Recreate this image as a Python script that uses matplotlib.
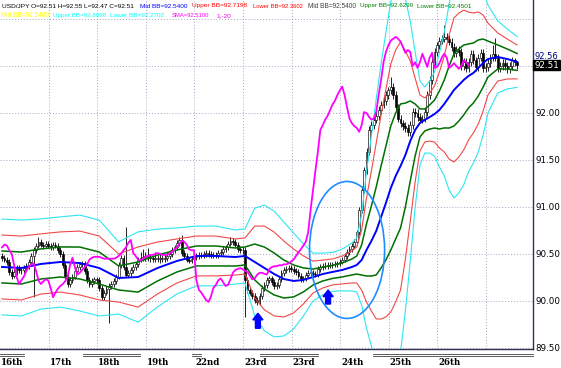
import matplotlib
matplotlib.use('Agg')
import matplotlib.pyplot as plt
from matplotlib import font_manager as fm
from matplotlib.patches import Ellipse, FancyArrow
from matplotlib.lines import Line2D
import numpy as np

# ---------------- data ----------------
first_open = 90.48
closes = [
    90.46, 90.44, 90.42, 90.31, 90.27, 90.31, 90.35, 90.33, 90.33, 90.35,
    90.37, 90.42, 90.48, 90.54, 90.59, 90.63, 90.60, 90.59, 90.61, 90.59,
    90.57, 90.60, 90.59, 90.54, 90.50, 90.38, 90.26, 90.18, 90.22, 90.26,
    90.32, 90.36, 90.39, 90.40, 90.32, 90.22, 90.18, 90.21, 90.23, 90.22,
    90.14, 90.04, 90.09, 90.13, 90.16, 90.18, 90.21, 90.26, 90.38, 90.46,
    90.36, 90.28, 90.30, 90.33, 90.36, 90.39, 90.44, 90.46, 90.47, 90.47,
    90.47, 90.46, 90.45, 90.45, 90.45, 90.45, 90.45, 90.46, 90.48, 90.50,
    90.54, 90.57, 90.62, 90.65, 90.51, 90.48, 90.44, 90.43, 90.45, 90.47,
    90.48, 90.49, 90.49, 90.50, 90.51, 90.50, 90.49, 90.49, 90.49, 90.51,
    90.52, 90.55, 90.57, 90.61, 90.64, 90.63, 90.60, 90.55, 90.54, 90.54,
    90.22, 90.12, 90.09, 90.05, 90.01, 89.99, 90.05, 90.14, 90.17, 90.22,
    90.24, 90.20, 90.16, 90.17, 90.23, 90.30, 90.33, 90.34, 90.35, 90.34,
    90.32, 90.31, 90.27, 90.23, 90.24, 90.28, 90.30, 90.30, 90.29, 90.28,
    90.34, 90.36, 90.37, 90.37, 90.38, 90.38, 90.39, 90.39, 90.40, 90.42,
    90.44, 90.48, 90.52, 90.55, 90.59, 90.63, 90.73, 90.97, 91.18, 91.39,
    91.59, 91.82, 91.87, 91.93, 91.97, 92.03, 92.09, 92.13, 92.19, 92.24,
    92.28, 92.19, 92.06, 91.94, 91.89, 91.86, 91.84, 91.80, 91.87, 92.01,
    92.00, 91.96, 91.93, 91.94, 92.01, 92.19, 92.35, 92.54, 92.65, 92.72,
    92.77, 92.79, 92.81, 92.79, 92.76, 92.70, 92.64, 92.67, 92.65, 92.50,
    92.54, 92.48, 92.54, 92.63, 92.56, 92.49, 92.59, 92.64, 92.48, 92.49,
    92.53, 92.59, 92.63, 92.59, 92.48, 92.50, 92.53, 92.50, 92.47, 92.50,
    92.56, 92.54, 92.51,
]
highs = [
    90.51, 90.49, 90.47, 90.45, 90.34, 90.34, 90.38, 90.38, 90.36, 90.38,
    90.40, 90.45, 90.51, 90.57, 90.62, 90.68, 90.66, 90.63, 90.64, 90.64,
    90.62, 90.63, 90.63, 90.62, 90.57, 90.53, 90.41, 90.29, 90.25, 90.29,
    90.35, 90.39, 90.42, 90.43, 90.43, 90.35, 90.25, 90.24, 90.26, 90.26,
    90.25, 90.17, 90.12, 90.16, 90.19, 90.21, 90.24, 90.29, 90.41, 90.49,
    90.49, 90.79, 90.33, 90.36, 90.39, 90.42, 90.47, 90.52, 90.55, 90.52,
    90.56, 90.50, 90.49, 90.52, 90.49, 90.50, 90.49, 90.50, 90.52, 90.54,
    90.57, 90.60, 90.65, 90.68, 90.70, 90.54, 90.51, 90.47, 90.48, 90.50,
    90.51, 90.52, 90.52, 90.53, 90.54, 90.54, 90.53, 90.52, 90.52, 90.54,
    90.55, 90.58, 90.60, 90.64, 90.68, 90.67, 90.66, 90.63, 90.58, 90.57,
    90.57, 90.25, 90.15, 90.12, 90.08, 90.04, 90.08, 90.17, 90.20, 90.25,
    90.27, 90.27, 90.23, 90.20, 90.26, 90.33, 90.36, 90.37, 90.38, 90.38,
    90.37, 90.35, 90.34, 90.30, 90.27, 90.31, 90.33, 90.34, 90.33, 90.32,
    90.37, 90.39, 90.40, 90.41, 90.41, 90.42, 90.42, 90.43, 90.43, 90.45,
    90.47, 90.51, 90.55, 90.58, 90.62, 90.66, 90.76, 91.00, 91.22, 91.43,
    91.63, 91.86, 91.91, 91.97, 92.01, 92.07, 92.13, 92.17, 92.23, 92.28,
    92.38, 92.32, 92.23, 92.10, 91.98, 91.93, 91.90, 91.88, 91.91, 92.05,
    92.05, 92.04, 92.00, 91.98, 92.05, 92.23, 92.39, 92.58, 92.69, 92.76,
    92.81, 92.83, 92.94, 92.85, 92.83, 92.80, 92.74, 92.71, 92.71, 92.69,
    92.58, 92.58, 92.58, 92.67, 92.67, 92.60, 92.63, 92.68, 92.68, 92.53,
    92.57, 92.63, 92.72, 92.80, 92.63, 92.54, 92.57, 92.57, 92.54, 92.54,
    92.60, 92.59, 92.55,
]
lows = [
    90.43, 90.41, 90.38, 90.28, 90.23, 90.24, 90.28, 90.30, 90.29, 90.30,
    90.32, 90.34, 90.39, 90.04, 90.51, 90.56, 90.57, 90.55, 90.56, 90.56,
    90.54, 90.54, 90.56, 90.51, 90.47, 90.35, 90.23, 90.15, 90.15, 90.19,
    90.23, 90.29, 90.33, 90.36, 90.29, 90.19, 90.15, 90.15, 90.18, 90.19,
    90.11, 90.01, 90.01, 90.06, 89.77, 90.13, 90.15, 90.18, 90.23, 90.35,
    90.33, 90.25, 90.25, 90.27, 90.30, 90.33, 90.36, 90.41, 90.43, 90.43,
    90.43, 90.42, 90.41, 90.41, 90.41, 90.40, 90.41, 90.42, 90.43, 90.45,
    90.47, 90.51, 90.54, 90.59, 90.48, 90.45, 90.41, 90.40, 90.40, 90.42,
    90.44, 90.45, 90.46, 90.46, 90.47, 90.47, 90.46, 90.46, 90.46, 90.46,
    90.48, 90.49, 90.52, 90.54, 90.58, 90.60, 90.57, 90.52, 90.51, 90.50,
    89.83, 90.09, 90.06, 90.02, 89.98, 89.96, 89.96, 90.02, 90.11, 90.14,
    90.19, 90.17, 90.13, 90.13, 90.14, 90.20, 90.27, 90.30, 90.31, 90.31,
    90.29, 90.28, 90.24, 90.20, 90.20, 90.21, 90.25, 90.27, 90.26, 90.25,
    90.25, 90.31, 90.33, 90.34, 90.34, 90.35, 90.35, 90.36, 90.36, 90.37,
    90.39, 90.41, 90.45, 90.49, 90.52, 90.56, 90.60, 90.70, 90.94, 91.15,
    91.35, 91.55, 91.78, 91.83, 91.89, 91.93, 91.99, 92.05, 92.09, 92.15,
    92.20, 92.15, 92.02, 91.90, 91.85, 91.82, 91.80, 91.76, 91.76, 91.83,
    91.96, 91.92, 91.89, 91.89, 91.90, 91.97, 92.15, 92.31, 92.50, 92.61,
    92.68, 92.73, 92.75, 92.75, 92.72, 92.66, 92.60, 92.60, 92.61, 92.46,
    92.46, 92.44, 92.44, 92.50, 92.52, 92.45, 92.45, 92.55, 92.44, 92.44,
    92.45, 92.49, 92.55, 92.55, 92.44, 92.44, 92.46, 92.46, 92.43, 92.43,
    92.46, 92.50, 92.47,
]

# Bollinger (20) samples: middle line and one standard deviation
band_idx = [0, 8, 16, 24, 32, 40, 48, 56, 64, 72,
            80, 88, 96, 100, 104, 108, 112, 116, 120, 124,
            128, 132, 136, 140, 144, 146, 148, 150, 152, 154,
            156, 158, 160, 162, 164, 166, 168, 170, 172, 174,
            176, 178, 180, 182, 184, 186, 188, 190, 192, 194,
            196, 198, 200, 204, 208, 212]
bb_mid = [90.362, 90.351, 90.394, 90.415, 90.404, 90.351, 90.245, 90.255, 90.351, 90.426,
          90.479, 90.479, 90.468, 90.479, 90.415, 90.351, 90.287, 90.234, 90.213, 90.224,
          90.255, 90.287, 90.309, 90.330, 90.362, 90.383, 90.436, 90.543, 90.638, 90.745,
          90.894, 91.043, 91.202, 91.330, 91.436, 91.553, 91.702, 91.819, 91.894, 91.926,
          91.957, 91.989, 92.032, 92.096, 92.170, 92.245, 92.298, 92.351, 92.394, 92.426,
          92.479, 92.532, 92.574, 92.596, 92.574, 92.543]
bb_sd = [0.170, 0.170, 0.160, 0.160, 0.170, 0.170, 0.128, 0.160, 0.138, 0.117,
         0.106, 0.106, 0.096, 0.096, 0.191, 0.223, 0.223, 0.202, 0.170, 0.128,
         0.085, 0.074, 0.069, 0.074, 0.085, 0.096, 0.160, 0.277, 0.372, 0.468,
         0.543, 0.606, 0.660, 0.670, 0.660, 0.553, 0.426, 0.277, 0.149, 0.117,
         0.128, 0.149, 0.202, 0.255, 0.330, 0.383, 0.383, 0.372, 0.340, 0.319,
         0.298, 0.255, 0.191, 0.128, 0.106, 0.090]

lag_shift = 20
date_labels = ['16th', '17th', '18th', '19th', '22nd', '23rd', '23rd', '24th', '25th', '26th']
label_bars = [0, 20, 40, 60, 80, 100, 120, 140, 160, 180]
price_ticks = [89.50, 90.00, 90.50, 91.00, 91.50, 92.00]

# ---------------- figure ----------------
W, H = 561, 368
fig = plt.figure(figsize=(W / 100, H / 100), dpi=100)
fig.patch.set_facecolor('white')
ax_left, ax_right, ax_top, ax_bot = 0, 533, 0, 349
ax = fig.add_axes([ax_left / W, 1 - ax_bot / H, (ax_right - ax_left) / W, (ax_bot - ax_top) / H])
ax.set_facecolor('white')

px_per_bar = 2.43
x_off = 2.0
ax.set_xlim((ax_left - x_off) / px_per_bar, (ax_right - x_off) / px_per_bar)
ax.set_ylim(93.2021 - ax_bot / 94.0, 93.2021)

gridc = '#a8a4c4'
for lvl in price_ticks + [92.5, 93.0]:
    ax.axhline(lvl, color=gridc, lw=0.7, ls=(0, (1, 2)), zorder=0)
for b in label_bars[1:] + [200]:
    ax.axvline(b - 0.82, color=gridc, lw=0.7, ls=(0, (1, 2)), zorder=0)

# candles
n = len(closes)
opens = [first_open] + closes[:-1]
idx = np.arange(n)
for i in range(n):
    o, c, h, l = opens[i], closes[i], highs[i], lows[i]
    ax.vlines(i, l, h, color='black', lw=0.6, zorder=2)
    bottom = min(o, c)
    height = max(abs(c - o), 0.004)
    face = 'white' if c >= o else 'black'
    ax.bar(i, height, bottom=bottom, width=0.75, color=face, edgecolor='black', lw=0.45, zorder=3)

# Bollinger bands
bi = np.array(band_idx)
m = np.array(bb_mid)
s = np.array(bb_sd)
for k, col, lw in [(3, '#2ee6f2', 0.8), (2, '#f24848', 0.8), (1, '#007000', 1.1)]:
    ax.plot(bi, m + k * s, color=col, lw=lw, zorder=4)
    ax.plot(bi, m - k * s, color=col, lw=lw, zorder=4)
ax.plot(bi, m, color='#0000ff', lw=1.4, zorder=5)

# lagging close (SMA 1, shift -20)
ax.plot(idx[:n - lag_shift], closes[lag_shift:], color='#ff00ff', lw=1.3, zorder=5)

# annotations: ellipse and arrows
ax.add_patch(Ellipse((142.0, 90.543), 30.9, 1.457, fill=False, edgecolor='#1e8cff', lw=1.2, zorder=6))
for xa, yb, yt in [(105.3, 89.71, 89.87), (134.2, 89.968, 90.117)]:
    ax.add_patch(FancyArrow(xa, yb, 0, yt - yb, width=2.0, head_width=4.2, head_length=0.07,
                            length_includes_head=True, color='#0000ff', zorder=7))

# axes styling
for sp in ['top', 'left']:
    ax.spines[sp].set_visible(False)
ax.spines['right'].set_color('#303050')
ax.spines['bottom'].set_color('#303050')
ax.spines['right'].set_linewidth(1.0)
ax.spines['bottom'].set_linewidth(1.0)
ax.set_xticks([])
ax.yaxis.tick_right()
ax.set_yticks(price_ticks)
ax.set_yticklabels(['%.2f' % v for v in price_ticks], fontsize=6.3, family='DejaVu Sans')
ax.tick_params(axis='y', length=0, pad=1.5)

# current price labels
ax.text(1.002, 92.598, '92.56', transform=ax.get_yaxis_transform(), fontsize=6.0, color='#000080',
        va='center', ha='left', clip_on=False, zorder=8)
ax.text(1.002, 92.51, '92.51', transform=ax.get_yaxis_transform(), fontsize=6.3, color='white',
        va='center', ha='left', clip_on=False, zorder=9,
        bbox=dict(boxstyle='square,pad=0.1', fc='black', ec='black'))

# date labels and session bars below axis
for lab, b in zip(date_labels, label_bars):
    xp = x_off + b * px_per_bar - 1
    fig.text(max(xp, 1) / W, 1 - 362.5 / H, lab, fontsize=6.2, fontweight='bold', family='DejaVu Serif',
             va='center', ha='left')
for x0, x1 in [(0, 24), (83, 140), (192, 201), (260, 318), (373, 533)]:
    for yy in (354.0, 356.2):
        fig.add_artist(Line2D([x0 / W, x1 / W], [1 - yy / H, 1 - yy / H], transform=fig.transFigure,
                              color='#404040', lw=0.6))

# header texts (x start, x end, y centre in pixels)
hdr = [
    (2, 135, 6, 'USD/JPY O=92.51 H=92.55 L=92.47 C=92.51', '#000000'),
    (140, 188, 6, 'Mid BB=92.5400', '#0000ff'),
    (192, 248, 6, 'Upper BB=92.7198', '#ff0000'),
    (253, 303, 6, 'Lower BB=92.3602', '#ff0000'),
    (308, 357, 6, 'Mid BB=92.5400', '#404040'),
    (360, 414, 6, 'Upper BB=92.6299', '#008000'),
    (417, 472, 6, 'Lower BB=92.4501', '#008000'),
    (1, 50, 15.5, 'Mid BB=92.5400', '#ffff00'),
    (53, 107, 15.5, 'Upper BB=92.8098', '#00ffff'),
    (110, 165, 15.5, 'Lower BB=92.2702', '#00ffff'),
    (172, 210, 15.5, 'SMA=92.5100', '#ff00ff'),
    (217, 232, 15.5, '1,-20', '#ff00ff'),
]
installed = {f.name for f in fm.fontManager.ttflist}
hfam = 'Liberation Sans Narrow' if 'Liberation Sans Narrow' in installed else 'Liberation Sans'
renderer = fig.canvas.get_renderer()
for x0, x1, yp, t, col in hdr:
    txt = fig.text(x0 / W, 1 - yp / H, t, fontsize=6.0, family=hfam, color=col,
                   va='center', ha='left')
    wpx = txt.get_window_extent(renderer).width
    txt.set_fontsize(min(7.0, 6.0 * (x1 - x0) / wpx))

fig.savefig('out.png', dpi=100, facecolor='white')
